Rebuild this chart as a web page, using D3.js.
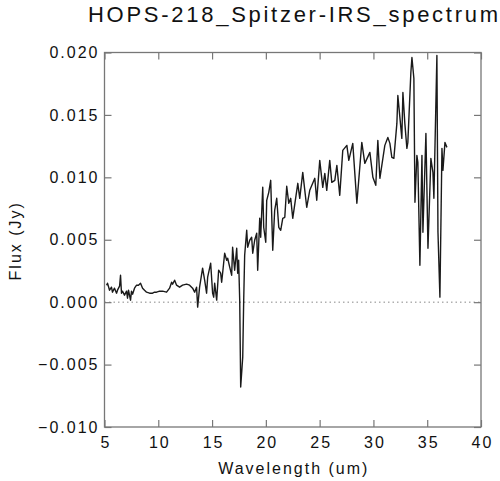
<!DOCTYPE html>
<html>
<head>
<meta charset="utf-8">
<script src="https://cdn.jsdelivr.net/npm/d3@7"></script>
<style>
  html, body { margin: 0; padding: 0; background: #fff; }
  svg { display: block; }
  text { font-family: "Liberation Sans", Arial, Helvetica, sans-serif; fill: #111; }
</style>
</head>
<body>
<svg id="chart" width="500" height="481"></svg>
<script>
// ---- data ----
const title = "HOPS-218_Spitzer-IRS_spectrum";
const xLabel = "Wavelength (um)";
const yLabel = "Flux (Jy)";
const xTicks = [5, 10, 15, 20, 25, 30, 35, 40];
const yTicks = [-0.010, -0.005, 0.000, 0.005, 0.010, 0.015, 0.020];

const wavelength = [
  5.19, 5.28, 5.47, 5.65, 5.74, 5.93, 6.12, 6.21, 6.40, 6.49, 6.58, 6.68, 6.86, 7.05, 7.14, 7.23,
  7.42, 7.51, 7.61, 7.79, 7.98, 8.16, 8.35, 8.54, 8.72, 8.91, 9.19, 9.47, 9.65, 9.84, 10.12, 10.40,
  10.77, 11.05, 11.24, 11.33, 11.52, 11.70, 11.98, 12.26, 12.63, 12.91, 13.19, 13.38, 13.56, 13.66,
  13.84, 14.12, 14.31, 14.49, 14.59, 14.87, 15.05, 15.15, 15.24, 15.43, 15.61, 15.80, 15.89, 15.98,
  16.17, 16.36, 16.45, 16.64, 16.82, 16.91, 17.10, 17.29, 17.38, 17.47, 17.57, 17.66, 17.85, 17.94,
  18.03, 18.22, 18.31, 18.50, 18.68, 18.78, 18.96, 19.15, 19.24, 19.43, 19.52, 19.71, 19.80, 19.99,
  20.08, 20.27, 20.45, 20.64, 20.82, 21.01, 21.20, 21.38, 21.57, 21.76, 21.94, 22.13, 22.31, 22.50,
  22.78, 22.97, 23.15, 23.43, 23.80, 24.08, 24.55, 24.73, 25.01, 25.29, 25.48, 25.66, 25.94, 26.13,
  26.41, 26.60, 26.87, 27.15, 27.53, 27.71, 28.08, 28.46, 28.92, 29.20, 29.67, 29.95, 30.22, 30.41,
  30.60, 31.06, 31.34, 31.53, 31.71, 31.90, 32.18, 32.27, 32.46, 32.64, 32.74, 32.92, 33.11, 33.20,
  33.48, 33.58, 33.76, 33.86, 34.04, 34.13, 34.32, 34.51, 34.60, 34.88, 35.07, 35.34, 35.53, 35.62,
  35.90, 36.00, 36.18, 36.37, 36.46, 36.65, 36.83
];
const flux = [
  0.00136, 0.00152, 0.00096, 0.00120, 0.00080, 0.00112, 0.00072, 0.00096, 0.00128, 0.00216, 0.00072, 0.00088, 0.00056, 0.00088, 0.00032, 0.00096,
  0.00016, 0.00088, 0.00064, 0.00112, 0.00136, 0.00136, 0.00152, 0.00112, 0.00096, 0.00080, 0.00072, 0.00072, 0.00080, 0.00080, 0.00088, 0.00088,
  0.00080, 0.00112, 0.00160, 0.00144, 0.00176, 0.00136, 0.00120, 0.00136, 0.00144, 0.00136, 0.00112, 0.00080, 0.00120, -0.00040,
  0.00120, 0.00272, 0.00176, 0.00072, 0.00200, 0.00312, 0.00072, 0.00040, 0.00152, 0.00016, 0.00256, 0.00232, 0.00160, 0.00232,
  0.00392, 0.00336, 0.00352, 0.00280, 0.00216, 0.00440, 0.00256, 0.00432, 0.00232, 0.00336, 0.00016, -0.00680, -0.00440, 0.00016,
  0.00376, 0.00576, 0.00440, 0.00496, 0.00520, 0.00392, 0.00496, 0.00552, 0.00256, 0.00672, 0.00520, 0.00920, 0.00600, 0.00480,
  0.00816, 0.00880, 0.00976, 0.00416, 0.00736, 0.00832, 0.00600, 0.00576, 0.00672, 0.00680, 0.00928, 0.00792, 0.00832, 0.00672,
  0.00840, 0.00952, 0.00832, 0.01040, 0.00760, 0.00896, 0.00992, 0.00816, 0.01136, 0.00920, 0.01032, 0.00896, 0.01136, 0.00960,
  0.00976, 0.01096, 0.00856, 0.01216, 0.01256, 0.01136, 0.01272, 0.00792, 0.01280, 0.01112, 0.01200, 0.01000, 0.00936, 0.01296,
  0.00992, 0.01256, 0.01320, 0.01272, 0.01160, 0.01152, 0.01432, 0.01656, 0.01480, 0.01312, 0.01680, 0.01432, 0.01232, 0.01280,
  0.01840, 0.01960, 0.01792, 0.00800, 0.01176, 0.01120, 0.00296, 0.01176, 0.00560, 0.01352, 0.00432, 0.01152, 0.01040, 0.00832,
  0.01976, 0.00560, 0.00040, 0.01232, 0.01056, 0.01280, 0.01240
];

// ---- layout ----
const plot = { left: 104.5, right: 481, top: 52.5, bottom: 427 };
const svg = d3.select("#chart");

const x = d3.scaleLinear().domain([5, 40]).range([plot.left, plot.right]);
const y = d3.scaleLinear().domain([-0.010, 0.020]).range([plot.bottom, plot.top]);

const axisColor = "#777";
const tickFont = 16, spacing = 2;

// zero dotted line
svg.append("line")
  .attr("x1", x(5)).attr("x2", x(40))
  .attr("y1", y(0)).attr("y2", y(0))
  .attr("stroke", "#888").attr("stroke-width", 1)
  .attr("stroke-dasharray", "1.5,3");

// data line
const pts = wavelength.map((w, i) => [w, flux[i]]);
svg.append("path")
  .datum(pts)
  .attr("fill", "none")
  .attr("stroke", "#1a1a1a")
  .attr("stroke-width", 1.4)
  .attr("stroke-linejoin", "round")
  .attr("d", d3.line().x(d => x(d[0])).y(d => y(d[1])));

// axes
function styleAxis(g) {
  g.select(".domain").remove();
  g.selectAll(".tick line").attr("stroke", axisColor).attr("stroke-width", 1.2);
  g.selectAll(".tick text")
    .attr("font-family", '"Liberation Sans", Arial, sans-serif')
    .attr("font-size", tickFont)
    .attr("fill", "#111")
    .style("letter-spacing", spacing + "px");
}

svg.append("g")
  .attr("transform", `translate(0,${plot.bottom})`)
  .call(d3.axisBottom(x).tickValues(xTicks).tickSize(-7).tickPadding(10).tickFormat(d3.format("d")))
  .call(styleAxis)
  .selectAll(".tick text").attr("dx", spacing / 2);

svg.append("g")
  .attr("transform", `translate(0,${plot.top})`)
  .call(d3.axisTop(x).tickValues(xTicks).tickSize(-7).tickFormat(""))
  .call(styleAxis);

svg.append("g")
  .attr("transform", `translate(${plot.left},0)`)
  .call(d3.axisLeft(y).tickValues(yTicks).tickSize(-7).tickPadding(5).tickFormat(d3.format(".3f")))
  .call(styleAxis);

svg.append("g")
  .attr("transform", `translate(${plot.right},0)`)
  .call(d3.axisRight(y).tickValues(yTicks).tickSize(-7).tickFormat(""))
  .call(styleAxis);

// frame
svg.append("rect")
  .attr("x", plot.left).attr("y", plot.top)
  .attr("width", plot.right - plot.left).attr("height", plot.bottom - plot.top)
  .attr("fill", "none").attr("stroke", axisColor).attr("stroke-width", 1.3);

// title
svg.append("text")
  .attr("x", 88).attr("y", 22)
  .attr("font-size", 22)
  .attr("textLength", 410).attr("lengthAdjust", "spacing")
  .text(title);

// x label
svg.append("text")
  .attr("x", (plot.left + plot.right) / 2 + 1).attr("y", 474)
  .attr("text-anchor", "middle")
  .attr("font-size", 16)
  .style("letter-spacing", "2px")
  .text(xLabel);

// y label
svg.append("text")
  .attr("transform", `translate(21,${(plot.top + plot.bottom) / 2 + 1}) rotate(-90)`)
  .attr("text-anchor", "middle")
  .attr("font-size", 16)
  .style("letter-spacing", "2px")
  .text(yLabel);
</script>
</body>
</html>
